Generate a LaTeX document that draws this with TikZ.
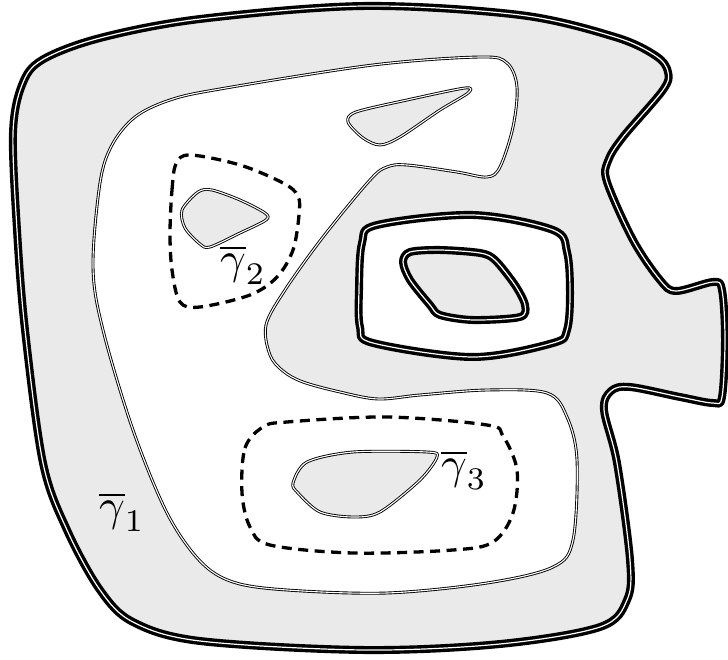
\documentclass[tikz,border=0pt]{standalone}
\begin{document}
\begin{tikzpicture}[x=1pt,y=-1pt,
  thickb/.style={draw=black,line width=3.4pt,double=white,double distance=1.2pt,line join=round},
  thinb/.style={draw=black,line width=0.9pt,double=white,double distance=1.1pt,line join=round},
  dashcurve/.style={draw=black,line width=3.3pt,dash pattern=on 10pt off 6.5pt},
  lbl/.style={inner sep=0pt}]
\definecolor{shade}{HTML}{EAEAEA}
\useasboundingbox (0,0) rectangle (728,660);
% outer boundary
\draw[thickb,fill=shade] plot[smooth cycle,tension=0.55] coordinates {
 (364,6) (520,15) (615,37) (656,56) (668,72) (663,90) (623,137) (608,161) (607,182) (633,240) (660,280) (676,291) (713,282) (722,290) (725,340) (722,397) (713,403) (680,397) (630,387) (611,391) (604,410) (617,463) (630,560) (627,600) (600,627) (500,644) (364,650) (200,641) (133,622) (100,590) (67,530) (43,463) (25,330) (17,230) (13,133) (22,85) (42,60) (100,38) (200,19)};
% big white region
\draw[thinb,fill=white] plot[smooth cycle,tension=0.55] coordinates {
 (220,89) (373,65) (480,57) (507,63) (517,87) (513,127) (500,167) (487,177) (457,172) (407,165) (387,167) (370,180) (323,237) (285,290) (266,325) (270,355) (283,371) (303,382) (340,392) (378,399) (420,395) (487,390) (547,393) (567,417) (577,460) (573,540) (553,567) (487,583) (387,593) (287,590) (233,582) (200,561) (167,513) (133,430) (103,330) (93,267) (100,183) (112,145) (135,117) (170,100)};
% holes
\draw[thinb,fill=shade] plot[smooth cycle,tension=0.5] coordinates {
 (348,122) (356,112) (407,100) (465,88) (468,93) (440,110) (400,137) (380,145) (363,138)};
\draw[thinb,fill=shade] plot[smooth cycle,tension=0.5] coordinates {
 (182,210) (198,192) (212,190) (240,200) (265,213) (266,220) (240,233) (210,247) (200,244) (185,228)};
\draw[thinb,fill=shade] plot[smooth cycle,tension=0.5] coordinates {
 (293,483) (307,462) (353,452) (427,452) (437,457) (420,480) (380,512) (353,517) (320,512) (298,493)};
% annulus
\draw[thickb,fill=white] plot[smooth cycle,tension=0.55] coordinates {
 (359,290) (362,243) (377,225) (473,215) (553,230) (567,252) (570,293) (567,330) (553,343) (473,357) (373,343) (360,327)};
\draw[thickb,fill=shade] plot[smooth cycle,tension=0.5] coordinates {
 (403,262) (410,252) (440,250) (480,253) (495,260) (515,285) (525,305) (520,317) (473,320) (440,315) (430,305) (410,280)};
% dashed curves
\draw[dashcurve] plot[smooth cycle,tension=0.55] coordinates {
 (170,233) (172,190) (176,164) (190,155) (240,165) (283,183) (298,196) (299,215) (293,250) (277,277) (250,295) (200,307) (180,302) (172,270)};
\draw[dashcurve] plot[smooth cycle,tension=0.55] coordinates {
 (242,493) (245,448) (263,427) (287,422) (387,417) (487,425) (503,436) (517,470) (513,513) (493,542) (453,550) (353,553) (270,545) (250,527)};
% labels
\node[lbl] (g1) at (122,512) {\scalebox{4.5}{$\overline{\gamma}_1$}};
\node[lbl] (g2) at (243,265) {\scalebox{4.5}{$\overline{\gamma}_2$}};
\node[lbl] (g3) at (464,470) {\scalebox{4.5}{$\overline{\gamma}_3$}};
\end{tikzpicture}
\end{document}
